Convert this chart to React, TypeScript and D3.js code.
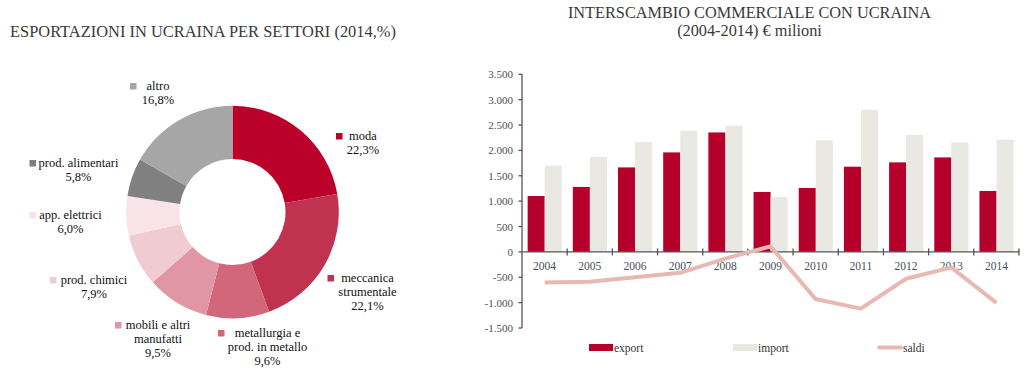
import React from "react";
import * as d3 from "d3";

// ---- Donut data ----
const sectors = [
  "moda",
  "meccanica strumentale",
  "metallurgia e prod. in metallo",
  "mobili e altri manufatti",
  "prod. chimici",
  "app. elettrici",
  "prod. alimentari",
  "altro",
];
const sectorShares = [22.3, 22.1, 9.6, 9.5, 7.9, 6.0, 5.8, 16.8];
const sectorColors = ["#bb0029", "#c13250", "#d2667b", "#e096a4", "#f0cbd1", "#f8e4e8", "#808080", "#a6a6a6"];

// ---- Bar chart data ----
const years = ["2004", "2005", "2006", "2007", "2008", "2009", "2010", "2011", "2012", "2013", "2014"];
const exportValues = [1102, 1280, 1665, 1961, 2354, 1181, 1260, 1679, 1764, 1862, 1201];
const importValues = [1699, 1870, 2165, 2388, 2486, 1083, 2197, 2801, 2303, 2158, 2211];
const saldiValues = [-604, -590, -500, -413, -132, 110, -930, -1118, -530, -305, -1006];
const yTicks = [-1500, -1000, -500, 0, 500, 1000, 1500, 2000, 2500, 3000, 3500];

// ---- Label layout for the donut (layout only) ----
const labelLayout: Record<string, { lines: string[]; sx: number; sy: number; cx: number; by: number }> = {
  "moda": { lines: ["moda"], sx: 336, sy: 133, cx: 363, by: 139.5 },
  "meccanica strumentale": { lines: ["meccanica", "strumentale"], sx: 327.5, sy: 275, cx: 367.5, by: 281.5 },
  "metallurgia e prod. in metallo": { lines: ["metallurgia e", "prod. in metallo"], sx: 218, sy: 330, cx: 267.5, by: 336.5 },
  "mobili e altri manufatti": { lines: ["mobili e altri", "manufatti"], sx: 115, sy: 322, cx: 158, by: 328.5 },
  "prod. chimici": { lines: ["prod. chimici"], sx: 50, sy: 277, cx: 94, by: 283.5 },
  "app. elettrici": { lines: ["app. elettrici"], sx: 29.5, sy: 212, cx: 70.5, by: 218.5 },
  "prod. alimentari": { lines: ["prod. alimentari"], sx: 29.5, sy: 160, cx: 78.5, by: 166.5 },
  "altro": { lines: ["altro"], sx: 130, sy: 83, cx: 158, by: 89.5 },
};

const FONT = "'Liberation Serif', 'Times New Roman', serif";
const TXT = "#3a3a3a";
const AXIS = "#555555";

function fmt(v: number) {
  const s = d3.format(",")(v).replace(/,/g, ".");
  return s.replace("−", "-");
}
function pct(v: number) {
  return v.toFixed(1).replace(".", ",") + "%";
}

export default function App() {
  // donut
  const cx = 232.5, cy = 212;
  const pie = d3.pie<number>().sort(null).value((d) => d);
  const arcs = pie(sectorShares);
  const arc = d3.arc<d3.PieArcDatum<number>>().innerRadius(53).outerRadius(106.3);

  // bars
  const x = d3.scaleBand<string>().domain(years).range([522, 1019]).padding(0);
  const bw = x.bandwidth();
  const xs = d3.scaleBand<string>().domain(["export", "import"]).range([bw * 0.125, bw * 0.88]).padding(0);
  const y = d3.scaleLinear().domain([-1500, 3500]).range([328, 74.3]);
  const line = d3
    .line<number>()
    .x((_, i) => (x(years[i]) as number) + bw / 2)
    .y((d) => y(d));

  return (
    <svg
      width={1025}
      height={376}
      style={{ position: "absolute", left: 0, top: 0, background: "#fff" }}
      fontFamily={FONT}
    >
      {/* Left title */}
      <text x={10} y={36.5} fontSize={16.4} fill={TXT} textLength={386} lengthAdjust="spacingAndGlyphs">
        ESPORTAZIONI IN UCRAINA PER SETTORI (2014,%)
      </text>

      {/* Donut */}
      <g transform={`translate(${cx},${cy})`}>
        {arcs.map((a, i) => (
          <path key={sectors[i]} d={arc(a) as string} fill={sectorColors[i]} />
        ))}
      </g>
      {sectors.map((s, i) => {
        const L = labelLayout[s];
        const lines = [...L.lines, pct(sectorShares[i])];
        return (
          <g key={s}>
            <rect x={L.sx} y={L.sy} width={6.5} height={6.5} fill={sectorColors[i]} />
            {lines.map((ln, j) => (
              <text key={j} x={L.cx} y={L.by + j * 14} fontSize={12.5} fill="#111" textAnchor="middle">
                {ln}
              </text>
            ))}
          </g>
        );
      })}

      {/* Right title */}
      <text x={749.5} y={18} fontSize={16.3} fill={TXT} textAnchor="middle">
        INTERSCAMBIO COMMERCIALE CON UCRAINA
      </text>
      <text x={749.5} y={36} fontSize={16.3} fill={TXT} textAnchor="middle">
        (2004-2014) € milioni
      </text>

      {/* Bars */}
      {years.map((yr, i) => (
        <g key={yr}>
          <rect
            x={(x(yr) as number) + (xs("export") as number)}
            y={y(exportValues[i])}
            width={xs.bandwidth()}
            height={y(0) - y(exportValues[i])}
            fill="#b4002a"
          />
          <rect
            x={(x(yr) as number) + (xs("import") as number)}
            y={y(importValues[i])}
            width={xs.bandwidth()}
            height={y(0) - y(importValues[i])}
            fill="#eae8e3"
          />
        </g>
      ))}

      {/* Y axis */}
      <line x1={522} x2={522} y1={y(3500)} y2={y(-1500)} stroke={AXIS} strokeWidth={1.3} />
      {yTicks.map((t) => (
        <g key={t}>
          <line x1={518.5} x2={522} y1={y(t)} y2={y(t)} stroke={AXIS} strokeWidth={1.3} />
          <text x={513} y={y(t) + 4} fontSize={11} fill="#45505a" textAnchor="end">
            {fmt(t)}
          </text>
        </g>
      ))}

      {/* X axis */}
      <line x1={522} x2={1019} y1={y(0)} y2={y(0)} stroke={AXIS} strokeWidth={1.3} />
      {years.map((yr, i) => (
        <g key={yr}>
          {i > 0 && (
            <line x1={x(yr) as number} x2={x(yr) as number} y1={y(0) - 3.5} y2={y(0) + 3.5} stroke={AXIS} strokeWidth={1.3} />
          )}
          <text x={(x(yr) as number) + bw / 2} y={269.5} fontSize={11.5} fill="#45505a" textAnchor="middle">
            {yr}
          </text>
        </g>
      ))}
      <line x1={1019} x2={1019} y1={y(0) - 3.5} y2={y(0) + 3.5} stroke={AXIS} strokeWidth={1.3} />

      {/* Saldi line */}
      <path d={line(saldiValues) as string} fill="none" stroke="#e8b8b3" strokeWidth={4} strokeLinejoin="round" />

      {/* Legend */}
      <rect x={589} y={344} width={24} height={7} fill="#b4002a" />
      <text x={614} y={351.5} fontSize={11.5} fill="#333">export</text>
      <rect x={733} y={344} width={24} height={7} fill="#eae8e3" />
      <text x={758} y={351.5} fontSize={11.5} fill="#333">import</text>
      <line x1={879} x2={901} y1={347.5} y2={347.5} stroke="#e8b8b3" strokeWidth={4} strokeLinecap="round" />
      <text x={903} y={351.5} fontSize={11.5} fill="#333">saldi</text>
    </svg>
  );
}
